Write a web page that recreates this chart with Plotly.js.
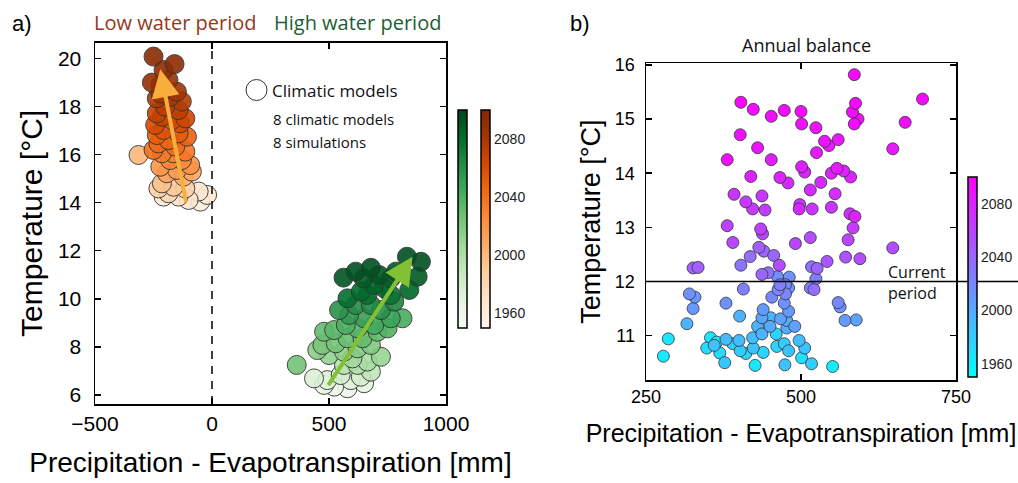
<!DOCTYPE html>
<html><head><meta charset="utf-8">
<script src="https://cdn.plot.ly/plotly-3.0.1.min.js"></script>
<style>html,body{margin:0;padding:0;background:#fff}#chart{width:1018px;height:483px}</style>
</head><body><div id="chart"></div>
<script>
// Panel a) low water period (orange)
const lowX = [-250,-160,-207,-186,-257,-221,-150,-221,-179,-236,-129,-200,-143,-236,-214,-114,-171,-243,-136,-207,-143,-236,-107,-186,-229,-157,-250,-114,-214,-164,-314,-179,-129,-93,-221,-150,-193,-86,-121,-214,-164,-229,-114,-186,-143,-57,-21,-50,-207,-100];
const lowY = [20.07,19.76,19.51,19.10,18.99,18.89,18.61,18.54,18.40,18.33,18.20,17.99,17.85,17.71,17.57,17.50,17.43,17.23,17.30,17.02,16.88,16.81,16.74,16.60,16.46,16.33,16.19,16.12,16.05,16.05,15.98,15.77,15.77,15.56,15.49,15.36,15.22,15.29,15.08,14.80,14.66,14.59,14.59,14.39,14.25,14.46,14.32,14.04,14.25,14.11];
const lowYear = [2095,2094,2092,2088,2090,2086,2084,2082,2080,2078,2076,2074,2072,2070,2068,2066,2064,2062,2060,2056,2052,2050,2048,2046,2044,2042,2040,2036,2034,2032,2000,2028,2026,2022,2020,2016,2012,2010,2006,1995,1990,1985,1982,1978,1972,1968,1962,1960,1965,1970];
// Panel a) high water period (green)
const highX = [833,893,879,843,562,614,647,679,714,764,786,579,636,693,736,664,764,614,543,586,679,722,779,814,764,650,572,622,693,750,479,522,472,529,579,643,707,722,564,622,679,500,450,362,436,493,550,593,636,679,522,579,650,479,622,564,664,600];
const highY = [11.75,11.54,10.92,10.37,10.88,11.13,10.85,11.29,10.99,10.85,11.13,10.02,10.30,10.57,10.44,10.16,10.16,9.74,9.53,9.33,9.74,9.53,9.88,9.19,9.19,9.19,8.91,8.77,8.91,8.77,8.63,8.70,8.08,8.15,8.36,8.36,8.63,7.59,7.80,7.94,8.08,7.66,7.87,7.25,6.69,6.62,6.83,6.62,6.76,6.97,6.35,6.28,6.49,6.42,7.25,7.25,7.39,7.52];
const highYear = [2095,2094,2090,2085,2092,2093,2090,2094,2092,2088,2091,2080,2082,2086,2084,2078,2076,2062,2058,2054,2064,2060,2066,2042,2048,2050,2040,2036,2044,2038,2030,2034,2022,2024,2028,2030,2032,2010,2014,2018,2020,2012,2016,2025,1975,1972,1980,1970,1978,1990,1962,1960,1966,1964,1998,1995,2002,2005];
// Trend arrows [tail, head]
const lowArrowX = [-110, -221], lowArrowY = [13.97, 19.54];
const highArrowX = [493, 857], highArrowY = [6.35, 11.75];
// Panel b) annual balance
const annX = [586,696,403,588,423,473,500,452,583,592,586,501,668,524,402,538,545,560,525,430,648,381,452,501,506,549,558,569,580,419,466,479,532,515,555,392,411,437,422,442,498,497,518,549,579,587,381,435,438,584,390,491,515,576,648,432,440,418,456,542,572,595,326,334,403,465,517,526,437,447,481,524,466,475,515,521,407,320,329,326,379,453,475,473,480,560,563,571,589,316,401,439,437,451,467,430,450,477,490,286,278,354,379,400,422,437,348,360,369,377,390,402,411,423,426,439,461,473,480,474,497,506,501,517,551,364,460,477,462,480,463];
const annY = [15.82,15.37,15.31,15.29,15.18,15.16,15.14,15.05,15.13,15.00,14.91,14.91,14.94,14.84,14.71,14.59,14.51,14.62,14.38,14.47,14.45,14.25,14.25,14.12,14.02,14.00,14.09,14.04,13.93,13.94,13.92,13.82,13.83,13.69,13.62,13.61,13.47,13.58,13.34,13.32,13.42,13.34,13.34,13.37,13.25,13.20,13.03,12.97,12.88,12.99,12.72,12.70,12.81,12.77,12.62,12.63,12.56,12.46,12.48,12.37,12.45,12.42,12.25,12.26,12.30,12.30,12.27,12.24,12.13,12.16,12.08,12.05,11.94,11.94,11.88,11.85,11.86,11.77,11.71,11.50,11.60,11.71,11.77,11.60,11.45,11.61,11.53,11.28,11.29,11.22,11.36,11.48,11.33,11.33,11.31,11.17,11.17,11.14,11.17,10.94,10.62,10.96,10.93,10.91,10.96,11.03,10.77,10.82,10.68,10.50,10.85,10.72,10.67,10.77,10.45,10.69,10.80,10.85,10.72,10.46,10.91,10.77,10.59,10.48,10.43,10.88,11.03,11.28,12.09,11.88,11.85];
const annYear = [2095,2095,2095,2094,2093,2093,2093,2092,2093,2092,2093,2091,2092,2089,2090,2088,2085,2087,2085,2087,2085,2092,2083,2082,2080,2080,2085,2083,2078,2082,2078,2076,2075,2075,2073,2070,2068,2068,2065,2065,2068,2075,2068,2068,2072,2078,2062,2062,2060,2065,2058,2060,2055,2058,2055,2045,2040,2035,2040,2050,2052,2055,2045,2045,2032,2055,2035,2042,2040,2035,2015,2025,2025,2020,2025,2035,2025,2015,2012,2010,2015,2020,2022,2015,2010,2020,2015,2008,2005,1995,1995,2010,2002,1995,2005,1995,2000,1998,2005,1965,1962,1965,1990,1990,1988,1995,1970,1985,1972,1982,1975,1980,1975,1985,1965,1975,1975,1980,1985,1985,1988,1985,1968,1980,1962,1965,1975,2000,2015,2010,2022];
const yearTicks = [1960, 2000, 2040, 2080];
const currentPeriodT = 12;

const W = 1018, H = 483;
const px = v => v / W, py = v => 1 - v / H;
const sans = 'Liberation Sans, Arial, sans-serif';
const hum = 'Open Sans, Noto Sans, sans-serif';

const greens = [[0,'#f7fcf5'],[0.125,'#e5f5e0'],[0.25,'#c7e9c0'],[0.375,'#a1d99b'],[0.5,'#74c476'],[0.625,'#41ab5d'],[0.75,'#238b45'],[0.875,'#006d2c'],[1,'#00441b']];
const oranges = [[0,'#fff5eb'],[0.125,'#fee6ce'],[0.25,'#fdd0a2'],[0.375,'#fdae6b'],[0.5,'#fd8d3c'],[0.625,'#f16913'],[0.75,'#d94801'],[0.875,'#a63603'],[1,'#7f2704']];
const cool = [[0,'#00ffff'],[1,'#ff00ff']];

function cb(xpix, ypixTop, ypixBot, showLabels, fs) {
  return {x: px(xpix), xanchor: 'left', xpad: 0, ypad: 0, thickness: 9,
    lenmode: 'pixels', len: ypixBot - ypixTop, y: py((ypixTop + ypixBot) / 2), yanchor: 'middle',
    outlinewidth: 1.5, outlinecolor: '#000', tickvals: yearTicks, ticks: '',
    showticklabels: showLabels, tickfont: {family: sans, size: fs, color: '#222'}};
}
function sorted(x, y, c) {
  const idx = c.map((v, i) => i).sort((a, b) => c[a] - c[b]);
  return [idx.map(i => x[i]), idx.map(i => y[i]), idx.map(i => c[i])];
}
const [lx, ly, lc] = sorted(lowX, lowY, lowYear);
const [hx, hy, hc] = sorted(highX, highY, highYear);
const [ax2, ay2, ac2] = sorted(annX, annY, annYear);

const traces = [
  {type: 'scatter', mode: 'markers', x: hx, y: hy, xaxis: 'x', yaxis: 'y', showlegend: false,
   marker: {size: 19, color: hc, colorscale: greens, cmin: 1950, cmax: 2100, opacity: 0.9,
     line: {color: '#333', width: 1}, showscale: true, colorbar: cb(458, 110, 328, false, 14)}},
  {type: 'scatter', mode: 'markers', x: lx, y: ly, xaxis: 'x', yaxis: 'y', showlegend: false,
   marker: {size: 19, color: lc, colorscale: oranges, cmin: 1950, cmax: 2100, opacity: 0.9,
     line: {color: '#333', width: 1}, showscale: true, colorbar: cb(481, 110, 328, true, 14)}},
  {type: 'scatter', mode: 'markers', x: ax2, y: ay2, xaxis: 'x2', yaxis: 'y2', showlegend: false,
   marker: {size: 12, color: ac2, colorscale: cool, cmin: 1950, cmax: 2100,
     line: {color: '#333', width: 0.8}, showscale: true, colorbar: cb(968, 177, 377, true, 14)}}
];

const axBase = {showline: true, linecolor: '#000', linewidth: 1.5, mirror: 'ticks', ticks: 'inside',
  ticklen: 6, tickwidth: 1.5, tickcolor: '#000', showgrid: false, zeroline: false, automargin: false,
  color: '#000'};

const layout = {
  width: W, height: H, margin: {l: 0, r: 0, t: 0, b: 0}, paper_bgcolor: '#fff', plot_bgcolor: '#fff',
  showlegend: false,
  xaxis: Object.assign({}, axBase, {domain: [px(95), px(446)], range: [-500, 1000], tickvals: [-500, 0, 500, 1000],
    ticktext: ['\u2212500', '0', '500', '1000'], tickfont: {family: sans, size: 21},
    title: {text: 'Precipitation - Evapotranspiration [mm]', font: {family: sans, size: 28}, standoff: 18}}),
  yaxis: Object.assign({}, axBase, {domain: [py(404), py(42.7)], range: [5.626, 20.649], tickvals: [6, 8, 10, 12, 14, 16, 18, 20],
    tickfont: {family: sans, size: 21}, ticklabelstandoff: 8,
    title: {text: 'Temperature [°C]', font: {family: sans, size: 30}, standoff: 6}}),
  xaxis2: Object.assign({}, axBase, {anchor: 'y2', domain: [px(646), px(956)], range: [250, 750], tickvals: [250, 500, 750],
    tickfont: {family: sans, size: 18},
    title: {text: 'Precipitation - Evapotranspiration [mm]', font: {family: sans, size: 25}, standoff: 18}}),
  yaxis2: Object.assign({}, axBase, {anchor: 'x2', domain: [py(380), py(63.3)], range: [10.18, 16.03], tickvals: [11, 12, 13, 14, 15, 16],
    tickfont: {family: sans, size: 18}, ticklabelstandoff: 6,
    title: {text: 'Temperature [°C]', font: {family: sans, size: 27}, standoff: 6}}),
  shapes: [
    {type: 'line', xref: 'x', yref: 'y domain', x0: 0, x1: 0, y0: 0, y1: 1, line: {color: '#000', width: 1.5, dash: '8px,7px'}},
    {type: 'line', xref: 'paper', yref: 'y2', x0: px(646), x1: 1, y0: currentPeriodT, y1: currentPeriodT, line: {color: '#000', width: 1.5}},
    {type: 'circle', xref: 'paper', yref: 'paper', x0: px(246), x1: px(267), y0: py(100.5), y1: py(79.5), line: {color: '#333', width: 1}, fillcolor: '#fff'}
  ],
  annotations: [
    {x: lowArrowX[1], y: lowArrowY[1], ax: lowArrowX[0], ay: lowArrowY[0], xref: 'x', yref: 'y', axref: 'x', ayref: 'y',
     text: '', showarrow: true, arrowhead: 2, arrowsize: 1.4, arrowwidth: 4, arrowcolor: '#f7ae3c'},
    {x: highArrowX[1], y: highArrowY[1], ax: highArrowX[0], ay: highArrowY[0], xref: 'x', yref: 'y', axref: 'x', ayref: 'y',
     text: '', showarrow: true, arrowhead: 2, arrowsize: 1.4, arrowwidth: 4, arrowcolor: '#84c034'},
    {xref: 'paper', yref: 'paper', x: px(10), y: py(24), xanchor: 'left', yanchor: 'middle', showarrow: false,
     text: 'a)', font: {family: sans, size: 22, color: '#000'}},
    {xref: 'paper', yref: 'paper', x: px(568), y: py(24), xanchor: 'left', yanchor: 'middle', showarrow: false,
     text: 'b)', font: {family: sans, size: 22, color: '#000'}},
    {xref: 'paper', yref: 'paper', x: px(92), y: py(22), xanchor: 'left', yanchor: 'middle', showarrow: false,
     text: 'Low water period', font: {family: hum, size: 20, color: '#93391a'}},
    {xref: 'paper', yref: 'paper', x: px(272), y: py(22), xanchor: 'left', yanchor: 'middle', showarrow: false,
     text: 'High water period', font: {family: hum, size: 20, color: '#1d5f33'}},
    {xref: 'paper', yref: 'paper', x: px(270), y: py(90), xanchor: 'left', yanchor: 'middle', showarrow: false,
     text: 'Climatic models', font: {family: hum, size: 17, color: '#111'}},
    {xref: 'paper', yref: 'paper', x: px(271), y: py(119), xanchor: 'left', yanchor: 'middle', showarrow: false,
     text: '8 climatic models', font: {family: hum, size: 15, color: '#111'}},
    {xref: 'paper', yref: 'paper', x: px(271), y: py(142), xanchor: 'left', yanchor: 'middle', showarrow: false,
     text: '8 simulations', font: {family: hum, size: 15, color: '#111'}},
    {xref: 'paper', yref: 'paper', x: px(806), y: py(45), xanchor: 'center', yanchor: 'middle', showarrow: false,
     text: 'Annual balance', font: {family: hum, size: 18, color: '#111'}},
    {xref: 'paper', yref: 'paper', x: px(886), y: py(282), xanchor: 'left', yanchor: 'middle', showarrow: false, align: 'left',
     text: 'Current<br>period', font: {family: hum, size: 16, color: '#111'}}
  ]
};
Plotly.newPlot('chart', traces, layout, {displayModeBar: false, staticPlot: true});
</script></body></html>
